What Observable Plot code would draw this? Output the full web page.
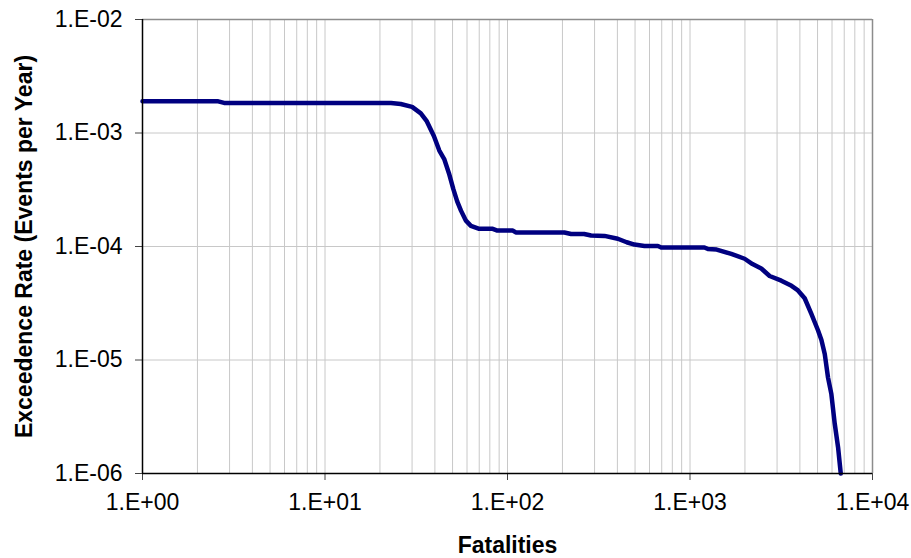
<!DOCTYPE html>
<html>
<head>
<meta charset="utf-8">
<script src="https://cdn.jsdelivr.net/npm/d3@7"></script>
<script src="https://cdn.jsdelivr.net/npm/@observablehq/plot@0.6"></script>
<style>
  html, body { margin: 0; padding: 0; background: #fff; }
  #chart { width: 911px; height: 558px; }
</style>
</head>
<body>
<div id="chart"></div>
<script>
const fatalities = [1, 2.6, 2.8, 23, 26, 30, 33.5, 36, 39.5, 42.3, 45, 47.8, 50.5, 53, 55.6, 59, 63, 70, 83, 88, 107, 111, 205, 223, 263, 287, 340, 402, 450, 496, 563, 667, 695, 1200, 1254, 1400, 1683, 1992, 2200, 2458, 2731, 3165, 3600, 3905, 4250, 4624, 5032, 5250, 5475, 5706, 5952, 6209, 6477, 6700];
const exceedanceRate = [1.90e-3, 1.90e-3, 1.84e-3, 1.84e-3, 1.80e-3, 1.70e-3, 1.49e-3, 1.28e-3, 9.4e-4, 7.0e-4, 5.9e-4, 4.4e-4, 3.2e-4, 2.5e-4, 2.07e-4, 1.70e-4, 1.52e-4, 1.43e-4, 1.43e-4, 1.38e-4, 1.38e-4, 1.33e-4, 1.33e-4, 1.29e-4, 1.29e-4, 1.25e-4, 1.24e-4, 1.17e-4, 1.09e-4, 1.04e-4, 1.01e-4, 1.01e-4, 9.8e-5, 9.8e-5, 9.5e-5, 9.4e-5, 8.6e-5, 7.8e-5, 7.0e-5, 6.4e-5, 5.5e-5, 5.0e-5, 4.5e-5, 4.1e-5, 3.5e-5, 2.55e-5, 1.82e-5, 1.5e-5, 1.13e-5, 7.0e-6, 5.0e-6, 2.75e-6, 1.7e-6, 1.0e-6];

const xTicks = [1, 10, 100, 1000, 10000];
const xTickLabels = ["1.E+00", "1.E+01", "1.E+02", "1.E+03", "1.E+04"];
const yTicks = [1e-6, 1e-5, 1e-4, 1e-3, 1e-2];
const yTickLabels = ["1.E-06", "1.E-05", "1.E-04", "1.E-03", "1.E-02"];
const xMinorGrid = [2,3,4,5,6,7,8,9,10,20,30,40,50,60,70,80,90,100,200,300,400,500,600,700,800,900,1000,2000,3000,4000,5000,6000,7000,8000,9000];
const yGrid = [1e-5, 1e-4, 1e-3];
const xTitle = "Fatalities";
const yTitle = "Exceedence Rate (Events per Year)";

const data = fatalities.map((f, i) => ({f, r: exceedanceRate[i]}));

const chart = Plot.plot({
  width: 911,
  height: 558,
  marginLeft: 142,
  marginRight: 39,
  marginTop: 19,
  marginBottom: 85,
  style: {fontFamily: "'Liberation Sans', Arial, sans-serif", fontSize: "23px", color: "#000", background: "#fff"},
  x: {type: "log", domain: [1, 10000]},
  y: {type: "log", domain: [1e-6, 1e-2]},
  marks: [
    Plot.ruleX(xMinorGrid, {stroke: "#c8c8c8", strokeWidth: 1}),
    Plot.ruleY(yGrid, {stroke: "#c8c8c8", strokeWidth: 1}),
    Plot.ruleY([1e-2], {stroke: "#8c8c8c", strokeWidth: 1.5}),
    Plot.ruleX([10000], {stroke: "#8c8c8c", strokeWidth: 1.5}),
    Plot.axisX({ticks: xTicks, tickSize: 7, tickPadding: 13, stroke: "#444", fill: "#000", fontSize: 23,
      tickFormat: d => xTickLabels[xTicks.indexOf(d)], label: null}),
    Plot.axisY({ticks: yTicks, tickSize: 7, tickPadding: 13, stroke: "#444", fill: "#000", fontSize: 23,
      tickFormat: d => yTickLabels[yTicks.indexOf(d)], label: null}),
    Plot.line(data, {x: "f", y: "r", stroke: "#000080", strokeWidth: 4.5, curve: "linear", strokeLinejoin: "round"}),
    Plot.ruleX([1], {stroke: "#000", strokeWidth: 1.5}),
    Plot.ruleY([1e-6], {stroke: "#000", strokeWidth: 1.5}),
    Plot.text([xTitle], {frameAnchor: "bottom", dy: 72, textAnchor: "middle", lineAnchor: "middle", fontWeight: "bold", fontSize: 23, fill: "#000"}),
    Plot.text([yTitle], {frameAnchor: "left", dx: -118, rotate: -90, textAnchor: "middle", lineAnchor: "middle", fontWeight: "bold", fontSize: 23, fill: "#000"})
  ]
});
document.getElementById("chart").appendChild(chart);
</script>
</body>
</html>
